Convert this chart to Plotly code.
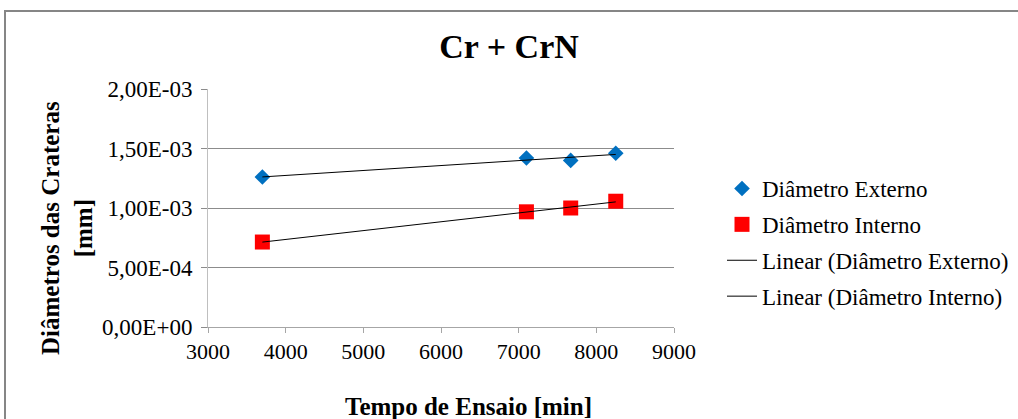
import numpy as np
import plotly.graph_objects as go

# tempo de ensaio [min] and crater diameters [mm]
tempo = [3700, 7100, 7670, 8250]
diam_externo = [1.26e-3, 1.42e-3, 1.40e-3, 1.46e-3]
diam_interno = [0.714e-3, 0.968e-3, 1.000e-3, 1.057e-3]

y_tickvals = [0, 5e-4, 1e-3, 1.5e-3, 2e-3]
y_ticktext = ["0,00E+00", "5,00E-04", "1,00E-03", "1,50E-03", "2,00E-03"]
x_tickvals = [3000, 4000, 5000, 6000, 7000, 8000, 9000]

W, H = 1018, 419
ML, MR, MT, MB = 208, 344, 89, 92
FONT = "Liberation Serif, Times New Roman, Times, serif"


def trend(x, y):
    a, b = np.polyfit(x, y, 1)
    xs = np.array([min(x), max(x)])
    return xs, a * xs + b


fig = go.Figure()

fig.add_trace(go.Scatter(
    x=tempo, y=diam_externo, mode="markers", name="Diâmetro Externo",
    marker=dict(symbol="diamond", size=12, color="#0070C0"),
    legendgroup="a",
))
fig.add_trace(go.Scatter(
    x=tempo, y=diam_interno, mode="markers", name="Diâmetro Interno",
    marker=dict(symbol="square", size=15, color="#FF0000"),
    legendgroup="b",
))
tx, ty = trend(tempo, diam_externo)
fig.add_trace(go.Scatter(
    x=tx, y=ty, mode="lines", name="Linear (Diâmetro Externo)",
    line=dict(color="black", width=1), legendgroup="c",
))
tx, ty = trend(tempo, diam_interno)
fig.add_trace(go.Scatter(
    x=tx, y=ty, mode="lines", name="Linear (Diâmetro Interno)",
    line=dict(color="black", width=1), legendgroup="d",
))

pw = W - ML - MR
ph = H - MT - MB
# outer chart frame (Excel style), partly cut by the image edge
fig.add_shape(
    type="rect", xref="paper", yref="paper",
    x0=(5 - ML) / pw, x1=(W + 20 - ML) / pw,
    y0=-(H + 20 - MT - ph) / ph, y1=(H - MB - 11) / ph,
    line=dict(color="#868686", width=2), fillcolor="rgba(0,0,0,0)",
    layer="below",
)

# axis titles placed as annotations (pixel positions of the original)
fig.add_annotation(
    text="<b>Diâmetros das Crateras<br>[mm]</b>", textangle=-90,
    xref="paper", yref="paper", x=(67 - ML) / pw, y=(H - MB - 228) / ph,
    xanchor="center", yanchor="middle", showarrow=False,
    font=dict(family=FONT, size=25, color="black"),
)
fig.add_annotation(
    text="<b>Tempo de Ensaio [min]</b>",
    xref="paper", yref="paper", x=(468 - ML) / pw, y=-(406 - (H - MB)) / ph,
    xanchor="center", yanchor="middle", showarrow=False,
    font=dict(family=FONT, size=25, color="black"),
)

fig.update_layout(
    width=W, height=H,
    margin=dict(l=ML, r=MR, t=MT, b=MB, autoexpand=False),
    paper_bgcolor="white", plot_bgcolor="white",
    font=dict(family=FONT, color="black", size=22),
    title=dict(text="<b>Cr + CrN</b>", x=0.5, xref="container", xanchor="center",
               y=1 - 46 / H, yanchor="middle", automargin=False,
               font=dict(family=FONT, size=34, color="black")),
    showlegend=True,
    legend=dict(x=(722 - ML) / pw, xanchor="left", y=(H - MB - 167) / ph, yanchor="top",
                font=dict(family=FONT, size=23, color="black"),
                tracegroupgap=3, bgcolor="rgba(0,0,0,0)"),
    xaxis=dict(
        range=[3000, 9000], tickvals=x_tickvals, showgrid=False,
        showline=True, linecolor="#A6A6A6", linewidth=1,
        ticks="outside", ticklen=5, tickcolor="#A6A6A6",
        tickfont=dict(family=FONT, size=22), zeroline=False, automargin=False,
    ),
    yaxis=dict(
        range=[0, 2e-3], tickvals=y_tickvals, ticktext=y_ticktext,
        showgrid=True, gridcolor="#8C8C8C", gridwidth=1,
        showline=True, linecolor="#BFBFBF", linewidth=1,
        ticks="outside", ticklen=6, tickcolor="#8C8C8C", ticklabelstandoff=4,
        tickfont=dict(family=FONT, size=23), zeroline=False, automargin=False,
    ),
)

# the page body has a default 8px margin; drop it so the figure sits at 0,0
fig.write_html("out.html", config={"displayModeBar": False},
               post_script="document.body.style.margin='0';")
